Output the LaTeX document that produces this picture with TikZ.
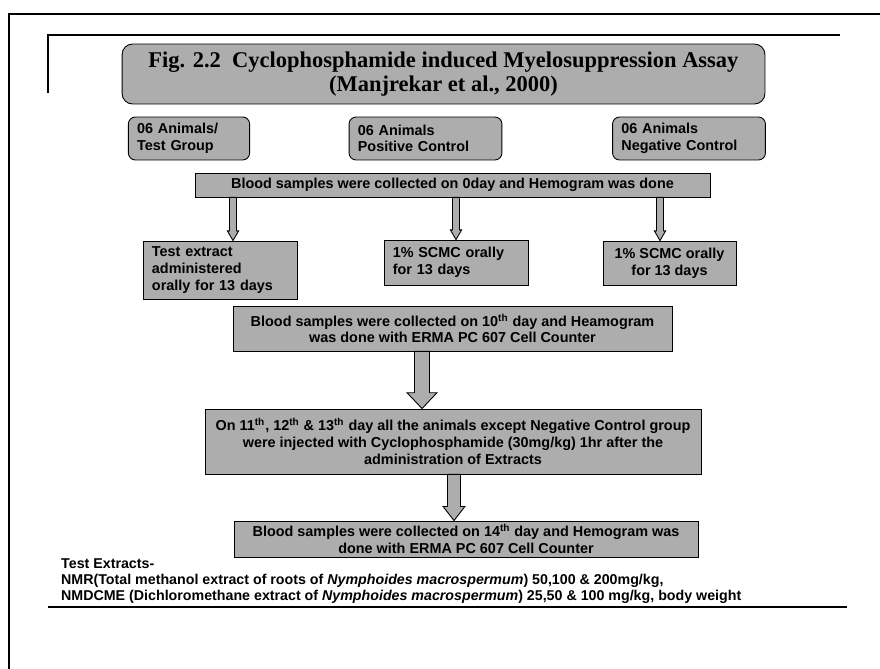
\documentclass[tikz,border=0pt]{standalone}
\usepackage{fontspec}
\setmainfont{Liberation Sans}
\newfontfamily\figfont{Liberation Serif}
\usetikzlibrary{calc}

\tikzset{
  shade box/.style={draw,fill=black!32,line width=0.5pt},
  % vertical block arrow: shaft half width, head half width, head length
  blockarrow/.style n args={3}{shade box,
    to path={let \p1=(\tikztostart),\p2=(\tikztotarget) in
      (\x1-#1,\y1) -- (\x1-#1,\y2+#3) -- (\x1-#2,\y2+#3) -- (\x1,\y2)
      -- (\x1+#2,\y2+#3) -- (\x1+#1,\y2+#3) -- (\x1+#1,\y1) -- cycle}}
}

\begin{document}
\begin{tikzpicture}[x=0.02cm,y=-0.02cm,
   box/.style={shade box,font=\fontsize{8.2}{9.5}\selectfont\bfseries,inner ysep=0pt,inner xsep=5pt},
   grp/.style={box,rounded corners=4pt},
   slim/.style={blockarrow={2pt}{3.2pt}{5.5pt}},
   fat/.style={blockarrow={4.3pt}{8.5pt}{9pt}},
   mid/.style={blockarrow={3.7pt}{6.2pt}{8pt}}]
  \useasboundingbox (0,0) rectangle (880,669);

  % frame lines
  \draw[line width=1.6pt] (8,14) -- (880,14);
  \draw[line width=1.6pt] (9,14) -- (9,669);
  \draw[line width=0.9pt] (48,93) -- (48,35) -- (840,35);
  \draw[line width=0.9pt] (48,607) -- (847,607);

  \node[shade box,rounded corners=6pt,minimum width=12.86cm,minimum height=1.2cm,align=center,
        font=\figfont\fontsize{12.8}{13.2}\selectfont\bfseries] (title) at (443.5,74)
        {Fig. 2.2~ Cyclophosphamide induced Myelosuppression Assay\\(Manjrekar et al., 2000)};

  \node[grp,minimum height=0.86cm,text width=59pt,align=left] (g1) at (189,138.5)
        {06 Animals/\\Test Group};
  \node[grp,minimum height=0.86cm,text width=77pt,align=left] (g2) at (425.5,138.5)
        {06 Animals\\Positive Control};
  \node[grp,minimum height=0.86cm,text width=77pt,align=left] (g3) at (689,138.5)
        {06 Animals\\Negative Control};

  \node[box,minimum width=10.3cm,minimum height=0.48cm] (b0) at (452.5,185)
        {Blood samples were collected on 0day and Hemogram was done};

  \node[box,minimum height=1.16cm,text width=78pt,align=left] (t1) at (220.5,270)
        {Test extract\\administered\\orally for 13 days};
  \node[box,minimum height=0.9cm,text width=72pt,align=left] (t2) at (456,262.5)
        {1\% SCMC orally\\for 13 days};
  \node[box,minimum width=2.66cm,minimum height=0.88cm,align=center] (t3) at (669.5,263)
        {1\% SCMC orally\\for 13 days};

  \node[box,minimum width=8.78cm,minimum height=0.9cm,align=center] (b10) at (452.5,328.5)
        {Blood samples were collected on 10\textsuperscript{th} day and Heamogram\\was done with ERMA PC 607 Cell Counter};
  \node[box,minimum width=9.92cm,minimum height=1.3cm,align=center] (b11) at (453,441.5)
        {On 11\textsuperscript{th}, 12\textsuperscript{th} \& 13\textsuperscript{th} day all the animals except Negative Control group\\
         were injected with Cyclophosphamide (30mg/kg) 1hr after the\\administration of Extracts};
  \node[box,minimum width=9.28cm,minimum height=0.72cm,align=center] (b14) at (466,539)
        {Blood samples were collected on 14\textsuperscript{th} day and Hemogram was\\done with ERMA PC 607 Cell Counter};

  \draw[slim] (233,0 |- b0.south) to (233,0 |- t1.north);
  \draw[slim] (t2.north |- b0.south) to (t2.north);
  \draw[slim] (660,0 |- b0.south) to (660,0 |- t3.north);
  \draw[fat] (422,0 |- b10.south) to (422,0 |- b11.north);
  \draw[mid] (454,0 |- b11.south) to (454,0 |- b14.north);

  \node[anchor=west,align=left,font=\fontsize{8.1}{9.3}\selectfont\bfseries] (ext) at (55,581)
        {Test Extracts-\\
         NMR(Total methanol extract of roots of \textit{Nymphoides macrospermum}) 50,100 \& 200mg/kg,\\
         NMDCME (Dichloromethane extract of \textit{Nymphoides macrospermum}) 25,50 \& 100 mg/kg, body weight};
\end{tikzpicture}
\end{document}
